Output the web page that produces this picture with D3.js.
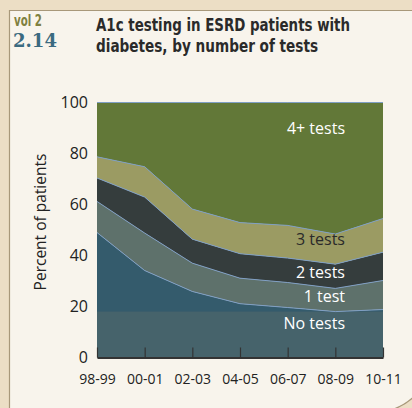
<!DOCTYPE html>
<html><head><meta charset="utf-8">
<script src="https://cdn.jsdelivr.net/npm/d3@7"></script>
<style>
html,body{margin:0;padding:0;background:#ecdec5;}
svg{display:block;}
</style></head>
<body>
<svg id="c" width="412" height="408"></svg>
<script>
const categories = ["98-99","00-01","02-03","04-05","06-07","08-09","10-11"];
const noTests    = [49.0, 34.1, 25.9, 21.1, 19.6, 18.0, 18.8];
const oneTest    = [12.2, 14.7, 11.1, 10.0, 9.8, 9.1, 11.4];
const twoTests   = [9.2, 14.1, 9.4, 9.6, 9.6, 9.5, 11.1];
const threeTests = [8.3, 11.9, 11.8, 12.2, 12.8, 11.8, 13.2];
const fourPlus   = [21.3, 25.2, 41.8, 47.1, 48.2, 51.6, 45.5];
const seriesNames = ["No tests","1 test","2 tests","3 tests","4+ tests"];
const yTicks = [0,20,40,60,80,100];

const svg = d3.select("#c");
// panel
svg.append("rect").attr("x",0).attr("y",0).attr("width",412).attr("height",408).attr("fill","#ecdec5");
svg.append("path").attr("d","M9.5,10.5 H432 V355 A57,57 0 0 1 375,412 H9.5 Z")
  .attr("fill","#f8f4ec").attr("stroke","#a8987a").attr("stroke-width",1.2);

const x = d3.scalePoint().domain(categories).range([97,383]);
const y = d3.scaleLinear().domain([0,100]).range([357.5,102.5]);

const table = categories.map((c,i)=>({cat:c, "No tests":noTests[i], "1 test":oneTest[i], "2 tests":twoTests[i], "3 tests":threeTests[i], "4+ tests":fourPlus[i]}));
const stack = d3.stack().keys(seriesNames)(table);
const colors = {"No tests":"#345b6c","1 test":"#5e716b","2 tests":"#353d3d","3 tests":"#9b9b63","4+ tests":"#627838"};

const area = d3.area().x(d=>x(d.data.cat)).y0(d=>y(d[0])).y1(d=>y(d[1]));
const line = d3.line().x(d=>x(d.data.cat)).y(d=>y(d[1]));

svg.append("g").selectAll("path").data(stack).join("path")
  .attr("d",area).attr("fill",d=>colors[d.key]);

// lower band in "No tests" area
const minNo = d3.min(noTests);
svg.append("rect").attr("x",x(categories[0])).attr("width",x(categories[categories.length-1])-x(categories[0]))
  .attr("y",y(minNo)).attr("height",y(0)-y(minNo)).attr("fill","#46636b");

svg.append("g").selectAll("path").data(stack).join("path")
  .attr("d",line).attr("fill","none").attr("stroke","#7f9fc4").attr("stroke-width",1);

// x axis
const xAxis = d3.axisBottom(x).tickSize(-10).tickSizeOuter(0).tickPadding(14);
const gx = svg.append("g").attr("transform",`translate(0,${y(0)})`).call(xAxis);
gx.select(".domain").attr("stroke","#333").attr("stroke-width",2);
gx.selectAll(".tick line").attr("stroke","#333").attr("stroke-width",1.2);
gx.selectAll(".tick text").attr("fill","#222").attr("font-family","'Open Sans',sans-serif").attr("font-size",14).attr("dy","0.35em").attr("y",22);

// y axis
const yAxis = d3.axisLeft(y).tickValues(yTicks).tickSize(0).tickPadding(9);
const gy = svg.append("g").attr("transform",`translate(97,0)`).call(yAxis);
gy.select(".domain").remove();
gy.selectAll(".tick text").attr("fill","#222").attr("font-family","'Open Sans',sans-serif").attr("font-size",16);

svg.append("text").attr("transform","translate(46,222) rotate(-90)").attr("text-anchor","middle")
  .attr("font-family","'Open Sans',sans-serif").attr("font-size",15.5).attr("fill","#222").text("Percent of patients");

// series labels
const labels = [
  {name:"4+ tests", v:90, fill:"#fff"},
  {name:"3 tests", v:46.5, fill:"#2a2a2a"},
  {name:"2 tests", v:33.5, fill:"#fff"},
  {name:"1 test", v:24, fill:"#fff"},
  {name:"No tests", v:13.2, fill:"#fff"}
];
svg.append("g").selectAll("text").data(labels).join("text")
  .attr("x",345).attr("y",d=>y(d.v)).attr("dy","0.35em").attr("text-anchor","end")
  .attr("font-family","'Open Sans',sans-serif").attr("font-size",16).attr("fill",d=>d.fill).text(d=>d.name);

// header
const cond = "'DejaVu Sans Condensed','Liberation Sans Narrow',sans-serif";
svg.append("text").attr("x",14).attr("y",26).attr("font-family",cond).attr("font-size",15).attr("font-weight","bold")
  .attr("fill","#7f8040").attr("textLength",28).attr("lengthAdjust","spacingAndGlyphs").text("vol 2");
svg.append("text").attr("x",13).attr("y",47).attr("font-family","'DejaVu Serif',serif").attr("font-size",19).attr("font-weight","bold")
  .attr("fill","#3b6a80").attr("textLength",44).attr("lengthAdjust","spacingAndGlyphs").text("2.14");
svg.append("text").attr("x",96).attr("y",31).attr("font-family",cond).attr("font-size",18).attr("font-weight","bold")
  .attr("fill","#2a2a2a").attr("textLength",254).attr("lengthAdjust","spacingAndGlyphs").text("A1c testing in ESRD patients with");
svg.append("text").attr("x",96).attr("y",52).attr("font-family",cond).attr("font-size",18).attr("font-weight","bold")
  .attr("fill","#2a2a2a").attr("textLength",222).attr("lengthAdjust","spacingAndGlyphs").text("diabetes, by number of tests");
</script>
</body></html>
